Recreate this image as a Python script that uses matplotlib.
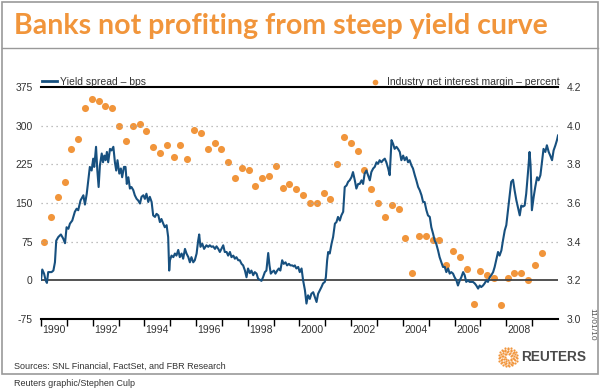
import numpy as np
import matplotlib
matplotlib.use('Agg')
import matplotlib.pyplot as plt
from matplotlib.lines import Line2D
from matplotlib.patches import Rectangle

plt.rcParams['font.family'] = ['Liberation Sans', 'DejaVu Sans']

# yield spread (bps): decimal year, value
spread_years = [
    1990.00, 1990.05, 1990.12, 1990.18, 1990.23, 1990.28, 1990.41, 1990.48, 1990.54, 1990.59,
    1990.67, 1990.77, 1990.86, 1990.93, 1990.99, 1991.06, 1991.12, 1991.21, 1991.31, 1991.38,
    1991.44, 1991.53, 1991.64, 1991.70, 1991.77, 1991.83, 1991.89, 1991.96, 1992.02, 1992.06,
    1992.13, 1992.18, 1992.23, 1992.28, 1992.35, 1992.40, 1992.45, 1992.50, 1992.55, 1992.60,
    1992.67, 1992.73, 1992.80, 1992.86, 1992.91, 1992.96, 1993.03, 1993.09, 1993.14, 1993.21,
    1993.27, 1993.32, 1993.38, 1993.44, 1993.50, 1993.57, 1993.63, 1993.70, 1993.76, 1993.83,
    1993.89, 1993.96, 1994.02, 1994.08, 1994.15, 1994.21, 1994.28, 1994.34, 1994.41, 1994.47,
    1994.54, 1994.60, 1994.66, 1994.73, 1994.79, 1994.86, 1994.92, 1994.96,
    1994.99, 1995.05, 1995.12, 1995.18, 1995.24, 1995.31, 1995.37, 1995.44, 1995.50, 1995.57,
    1995.63, 1995.70, 1995.76, 1995.82, 1995.89, 1995.95, 1996.02, 1996.08, 1996.12, 1996.17,
    1996.24, 1996.31, 1996.40, 1996.47, 1996.53, 1996.60, 1996.66, 1996.73, 1996.79, 1996.86,
    1996.92, 1996.98, 1997.05, 1997.11, 1997.18, 1997.24, 1997.31, 1997.37, 1997.44, 1997.50,
    1997.56, 1997.63, 1997.69, 1997.76, 1997.82, 1997.89, 1997.95, 1998.01, 1998.08, 1998.14,
    1998.21, 1998.27, 1998.34, 1998.40, 1998.47, 1998.53, 1998.59, 1998.66, 1998.72, 1998.79,
    1998.84, 1998.89, 1998.94, 1999.01, 1999.07, 1999.14, 1999.20, 1999.26, 1999.33, 1999.39,
    1999.46, 1999.52, 1999.59, 1999.65, 1999.72, 1999.78,
    1999.82, 1999.88, 1999.95, 2000.01, 2000.08, 2000.14, 2000.21, 2000.27, 2000.33, 2000.40,
    2000.46, 2000.53, 2000.59, 2000.66, 2000.72, 2000.79, 2000.85, 2000.91, 2000.98, 2001.02,
    2001.07, 2001.11, 2001.17, 2001.24, 2001.30, 2001.37, 2001.43, 2001.49, 2001.56, 2001.62,
    2001.69, 2001.75, 2001.82, 2001.88, 2001.94, 2002.01, 2002.07, 2002.14, 2002.20, 2002.27,
    2002.33, 2002.40, 2002.46, 2002.52, 2002.59, 2002.65, 2002.72, 2002.78, 2002.85, 2002.91,
    2002.98, 2003.04, 2003.10, 2003.17, 2003.23, 2003.30, 2003.36, 2003.43, 2003.49, 2003.56,
    2003.62, 2003.68, 2003.75, 2003.81, 2003.88, 2003.94, 2004.01, 2004.07, 2004.14, 2004.20,
    2004.26, 2004.33, 2004.39, 2004.46, 2004.52, 2004.59, 2004.65, 2004.72, 2004.78,
    2004.84, 2004.91, 2004.97, 2005.04, 2005.10, 2005.17, 2005.23, 2005.29, 2005.36, 2005.42,
    2005.49, 2005.55, 2005.62, 2005.68, 2005.75, 2005.81, 2005.87, 2005.94, 2006.00, 2006.07,
    2006.13, 2006.20, 2006.26, 2006.33, 2006.39, 2006.45, 2006.52, 2006.58, 2006.65, 2006.71,
    2006.78, 2006.84, 2006.91, 2006.97, 2007.03, 2007.10, 2007.16, 2007.23, 2007.29, 2007.36,
    2007.42, 2007.49, 2007.55, 2007.61, 2007.68, 2007.74, 2007.81, 2007.87, 2007.94, 2008.00,
    2008.06, 2008.13, 2008.19, 2008.26, 2008.32, 2008.39, 2008.45, 2008.52, 2008.58, 2008.64,
    2008.71, 2008.77, 2008.84, 2008.90, 2008.94, 2008.99, 2009.06, 2009.12, 2009.19, 2009.25,
    2009.32, 2009.38, 2009.44, 2009.51, 2009.57, 2009.64, 2009.70, 2009.77, 2009.83, 2009.90,
    2009.96, 2010.00,
]
spread_bps = [
    1, 21, 13, 0, -5, 16, 16, 19, 35, 77,
    84, 89, 81, 72, 103, 100, 110, 116, 133, 139,
    136, 155, 165, 147, 168, 194, 220, 213, 236, 220,
    259, 213, 181, 223, 246, 229, 242, 233, 249, 229,
    255, 252, 259, 229, 213, 233, 207, 217, 200, 220,
    220, 187, 200, 178, 181, 175, 165, 158, 155, 149,
    162, 165, 158, 168, 152, 162, 152, 126, 123, 129,
    126, 113, 119, 110, 103, 107, 84, 19,
    39, 48, 45, 52, 48, 59, 45, 52, 42, 61,
    52, 45, 35, 45, 35, 39, 52, 77, 89, 65,
    71, 61, 68, 65, 68, 65, 66, 61, 66, 61,
    55, 61, 68, 55, 55, 48, 55, 45, 48, 42,
    45, 39, 39, 32, 29, 19, 6, 23, 14, 19,
    10, 16, 13, 3, 1, -1, 6, 16, 19, 53,
    29, 13, 16, 19, 13, 19, 23, 19, 39, 32,
    35, 29, 32, 29, 29, 27,
    29, 23, 26, 16, 23, 0, -19, -45, -29, -36,
    -26, -23, -32, -42, -26, -19, -13, -6, -3, 6,
    39, 55, 52, 71, 84, 110, 113, 123, 116, 126,
    133, 181, 184, 191, 194, 200, 210, 194, 178, 187,
    187, 194, 187, 207, 213, 204, 194, 210, 217, 220,
    229, 226, 233, 229, 233, 236, 229, 217, 204, 272,
    265, 255, 259, 255, 249, 233, 242, 233, 239, 229,
    233, 223, 217, 204, 194, 181, 175, 165, 152,
    152, 136, 126, 123, 103, 90, 77, 71, 58, 45,
    35, 26, 26, 16, 23, 13, 16, 13, 6, 0,
    -10, 0, 6, 16, 10, -3, 0, -3, -3, -3,
    -6, -10, -16, -10, -13, -10, -6, 0, -3, 6,
    10, 16, 26, 39, 55, 48, 58, 77, 97, 107,
    133, 165, 191, 195, 175, 155, 142, 126, 145, 143,
    145, 168, 210, 249, 223, 136, 162, 181, 200, 194,
    204, 229, 255, 249, 262, 249, 242, 233, 252, 262,
    272, 281,
]

# industry net interest margin (percent), quarterly
nim_first, nim_last = 1990.12, 2009.37
nim_pct = [
    3.40, 3.53, 3.63, 3.71, 3.88, 3.93, 4.09, 4.14, 4.13, 4.10,
    4.09, 4.00, 3.92, 4.00, 4.01, 3.97, 3.89, 3.86, 3.90, 3.84,
    3.90, 3.83, 3.98, 3.96, 3.88, 3.91, 3.88, 3.81, 3.73, 3.78,
    3.77, 3.69, 3.73, 3.74, 3.79, 3.68, 3.70, 3.67, 3.64, 3.60,
    3.60, 3.65, 3.62, 3.80, 3.94, 3.91, 3.87, 3.77, 3.67, 3.60,
    3.53, 3.59, 3.57, 3.42, 3.24, 3.43, 3.43, 3.41, 3.41, 3.28,
    3.35, 3.32, 3.26, 3.08, 3.25, 3.23, 3.21, 3.07, 3.21, 3.24,
    3.24, 3.20, 3.28, 3.34,
]
nim_years = np.linspace(nim_first, nim_last, len(nim_pct))

left_ticks = [375, 300, 225, 150, 75, 0, -75]
right_ticks = [4.2, 4.0, 3.8, 3.6, 3.4, 3.2, 3.0]
label_years = list(range(1990, 2010, 2))

blue = '#17507f'
orange = '#f1953b'
txt = '#333333'

fig = plt.figure(figsize=(6, 3.91), dpi=100)
ax = fig.add_axes([0.0683, 0.1841, 0.8617, 0.5934])
ax2 = ax.twinx()

ax.set_xlim(1990, 2010)
ax.set_ylim(-75, 375)
ax2.set_ylim(3.0, 4.2)

for v in left_ticks[1:-2]:
    ax.axhline(v, color='#aaaaaa', lw=0.9, ls=(0, (1, 3)), zorder=0)
ax.axhline(0, color='#444444', lw=1.3, zorder=1)

ax2.scatter(nim_years, nim_pct, s=26, color=orange, lw=0, zorder=2,
            label='Industry net interest margin \u2013 percent')
ax.plot(spread_years, spread_bps, color=blue, lw=1.5, zorder=3,
        label='Yield spread \u2013 bps')
ax.set_zorder(ax2.get_zorder() + 1)
ax.patch.set_visible(False)

for a in (ax, ax2):
    for s in ('left', 'right'):
        a.spines[s].set_visible(False)
ax2.spines['top'].set_visible(False)
ax2.spines['bottom'].set_visible(False)
ax.spines['top'].set_color('black')
ax.spines['top'].set_linewidth(1.5)
ax.spines['bottom'].set_color('black')
ax.spines['bottom'].set_linewidth(1.5)

ax.set_yticks(left_ticks)
ax.set_yticklabels([str(v) for v in left_ticks])
ax.tick_params(axis='y', length=0, pad=6, labelsize=7.5, labelcolor=txt)
ax2.set_yticks(right_ticks)
ax2.set_yticklabels(['%.1f' % v for v in right_ticks])
ax2.tick_params(axis='y', length=0, pad=6, labelsize=7.5, labelcolor=txt)

ax.set_xticks(range(1990, 2010))
ax.set_xticklabels([])
ax.set_xticks([y + 0.5 for y in label_years], minor=True)
ax.set_xticklabels([str(y) for y in label_years], minor=True)
ax.tick_params(axis='x', which='major', length=5, width=1, color='black', direction='out')
ax.tick_params(axis='x', which='minor', length=0, pad=4, labelsize=7.5, labelcolor=txt)

leg1 = ax.legend(loc='lower left', bbox_to_anchor=(0.0, 0.995), frameon=False,
                 handlelength=1.4, handletextpad=0.35, borderpad=0, borderaxespad=0.1,
                 fontsize=7.5, labelcolor=txt)
leg1.get_lines()[0].set_linewidth(2)
ax2.legend(loc='lower right', bbox_to_anchor=(1.005, 0.995), frameon=False,
           handletextpad=0.1, borderpad=0, borderaxespad=0.1, markerscale=0.8,
           fontsize=7.5, labelcolor=txt)

# title, rules and frame
fig.text(0.024, 0.934, 'Banks not profiting from steep yield curve', color=orange,
         fontsize=20.5, fontweight='bold', va='center', ha='left',
         family=['Lato', 'Liberation Sans'])
fig.add_artist(Line2D([0.004, 0.996], [0.878, 0.878], color='#999999', lw=1))
fig.add_artist(Rectangle((0.004, 0.044), 0.992, 0.951, fill=False, ec='#999999', lw=1.2))

fig.text(0.023, 0.064, 'Sources: SNL Financial, FactSet, and FBR Research',
         fontsize=6.5, color=txt, va='center')
fig.text(0.023, 0.018, 'Reuters graphic/Stephen Culp', fontsize=6.5, color=txt, va='center')
fig.text(0.986, 0.17, '11/01/10', rotation=-90, fontsize=6, color='#555555',
         va='center', ha='center')

# Reuters logo: ring of dots plus wordmark
lg = fig.add_axes([497 / 600, 1 - 368 / 391, 22 / 600, 22 / 391])
lg.axis('off')
for r, n in [(0.3, 7), (0.45, 10), (0.6, 13), (0.75, 16), (0.9, 19)]:
    t = np.linspace(0, 2 * np.pi, n, endpoint=False) + r
    lg.scatter(r * np.cos(t), r * np.sin(t), s=2.5, color=orange, lw=0)
lg.set_xlim(-1.05, 1.05)
lg.set_ylim(-1.05, 1.05)
fig.text(0.868, 0.087, 'REUTERS', fontsize=9.8, fontweight='bold', color='#4a4a4a',
         va='center', ha='left')

fig.savefig('out.png', dpi=100)
